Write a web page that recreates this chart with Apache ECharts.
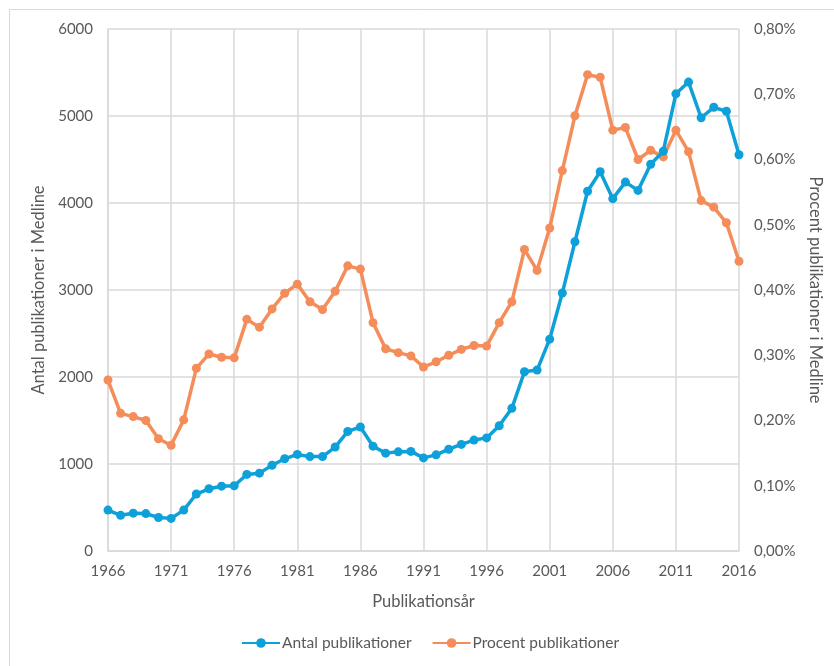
<!DOCTYPE html>
<html>
<head>
<meta charset="utf-8">
<script src="https://cdn.jsdelivr.net/npm/echarts@6/dist/echarts.min.js"></script>
<style>
  html, body { margin: 0; padding: 0; background: #fff; }
  #chart { width: 834px; height: 666px; }
</style>
</head>
<body>
<div id="chart"></div>
<script>
// år 1966 - 2016
var years = [];
for (var y = 1966; y <= 2016; y++) years.push(String(y));

// antal publikationer i Medline (vänster axel)
var antal = [470, 410, 435, 430, 385, 375, 470, 655, 715, 745, 750, 880, 895, 985, 1060, 1110,
    1085, 1085, 1195, 1375, 1425, 1205, 1125, 1140, 1145, 1070, 1105, 1170, 1225, 1275,
    1300, 1440, 1640, 2060, 2080, 2435, 2965, 3555, 4135, 4360, 4050, 4240, 4145, 4445,
    4595, 5255, 5390, 4980, 5100, 5055, 4555];

// procent publikationer i Medline (höger axel, i procent)
var procent = [0.262, 0.211, 0.206, 0.2, 0.172, 0.162, 0.201, 0.28, 0.302, 0.297, 0.296, 0.355,
    0.343, 0.371, 0.395, 0.409, 0.382, 0.37, 0.398, 0.437, 0.432, 0.35, 0.31, 0.304, 0.299,
    0.282, 0.29, 0.3, 0.309, 0.315, 0.314, 0.35, 0.382, 0.462, 0.43, 0.495, 0.583, 0.667,
    0.73, 0.726, 0.645, 0.649, 0.6, 0.614, 0.604, 0.645, 0.612, 0.537, 0.527, 0.503, 0.444];

var leftTicks = [0, 6000, 1000];
var rightTicks = [0, 0.8, 0.1];

var myChart = echarts.init(document.getElementById('chart'));
var txt = '#595959';
var fnt = 'Lato';

var option = {
    animation: false,
    textStyle: { fontFamily: fnt },
    graphic: [{
        type: 'rect',
        shape: { x: 9.5, y: 9.5, width: 900, height: 700 },
        style: { fill: 'none', stroke: '#d9d9d9', lineWidth: 1 },
        silent: true
    }],
    grid: { left: 108, right: 95, top: 29, bottom: 115 },
    legend: {
        bottom: 10,
        left: 236,
        itemWidth: 38,
        itemHeight: 12,
        itemGap: 20,
        textStyle: { color: txt, fontSize: 15.5, fontFamily: fnt, padding: [0, 0, 0, -3] },
        data: ['Antal publikationer', 'Procent publikationer']
    },
    xAxis: {
        type: 'category',
        data: years,
        boundaryGap: false,
        name: 'Publikationsår',
        nameLocation: 'middle',
        nameGap: 42,
        nameTextStyle: { color: txt, fontSize: 16.5, fontFamily: fnt },
        axisLine: { lineStyle: { color: '#d9d9d9', width: 1.5 } },
        axisTick: { show: false },
        axisLabel: { interval: 4, color: txt, fontSize: 15, margin: 13, fontFamily: fnt },
        splitLine: { show: true, interval: 4, lineStyle: { color: '#d9d9d9', width: 1.5 } }
    },
    yAxis: [{
        type: 'value',
        min: leftTicks[0], max: leftTicks[1], interval: leftTicks[2],
        name: 'Antal publikationer i Medline',
        nameLocation: 'middle',
        nameGap: 50,
        nameTextStyle: { color: txt, fontSize: 16.5, fontFamily: fnt },
        axisLine: { show: true, lineStyle: { color: '#d9d9d9', width: 1.5 } },
        axisTick: { show: false },
        axisLabel: {
            color: txt, fontSize: 15, margin: 15, fontFamily: fnt,
            formatter: function (v) { return String(v); }
        },
        splitLine: { lineStyle: { color: '#d9d9d9', width: 1.5 } }
    }, {
        type: 'value',
        min: rightTicks[0], max: rightTicks[1], interval: rightTicks[2],
        name: 'Procent publikationer i Medline',
        nameLocation: 'middle',
        nameGap: 65,
        nameRotate: -90,
        nameTextStyle: { color: txt, fontSize: 16.5, fontFamily: fnt },
        axisLine: { show: false },
        axisTick: { show: false },
        axisLabel: {
            color: txt, fontSize: 15, margin: 15, fontFamily: fnt,
            formatter: function (v) { return v.toFixed(2).replace('.', ',') + '%'; }
        },
        splitLine: { show: false }
    }],
    series: [{
        name: 'Antal publikationer',
        type: 'line',
        yAxisIndex: 0,
        data: antal,
        symbol: 'circle',
        symbolSize: 9,
        showAllSymbol: true,
        lineStyle: { width: 3.5, color: '#0EA0D9' },
        itemStyle: { color: '#0EA0D9' },
        z: 3
    }, {
        name: 'Procent publikationer',
        type: 'line',
        yAxisIndex: 1,
        data: procent,
        symbol: 'circle',
        symbolSize: 9,
        showAllSymbol: true,
        lineStyle: { width: 3.5, color: '#F48D5A' },
        itemStyle: { color: '#F48D5A' },
        z: 2
    }]
};

option && myChart.setOption(option);
</script>
</body>
</html>
